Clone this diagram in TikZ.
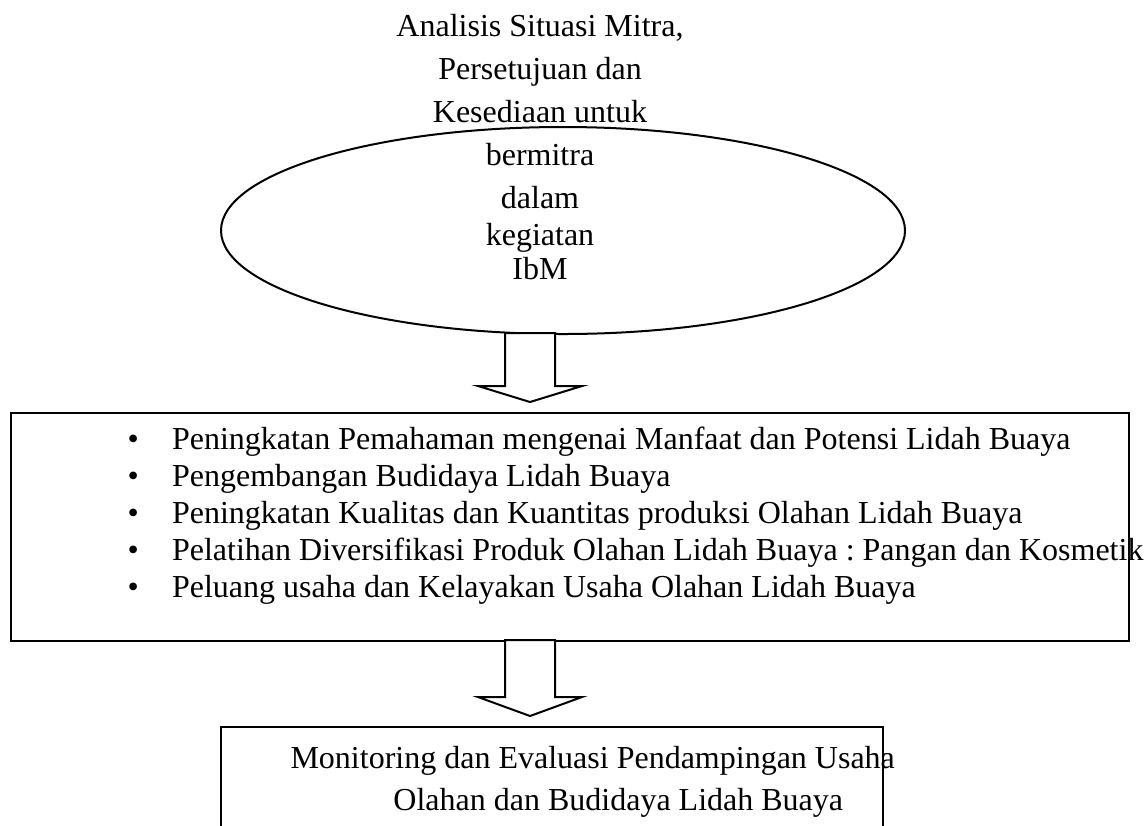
\documentclass[tikz,border=0pt]{standalone}
\usepackage{fontspec}
\setmainfont{Liberation Serif}
\usetikzlibrary{shapes.geometric}
\frenchspacing

\begin{document}
\begin{tikzpicture}[x=0.375pt,y=-0.375pt]
\tikzset{every node/.style={font=\fontsize{12}{13.9}\selectfont}}
\tikzset{outline/.style={draw,line width=0.75pt,inner sep=0pt}}
\tikzset{block arrow/.style={draw,line width=0.75pt,fill=white}}

\useasboundingbox (0,0) rectangle (1146,825);

% situasi mitra
\node[outline,ellipse,minimum width={684*0.375pt},minimum height={207*0.375pt}] (mitra) at (563,230.5) {};
\node[align=center,anchor=north,inner sep=0pt,font=\fontsize{12}{16.1}\selectfont] (mitratext) at (540,14)
  {Analisis Situasi Mitra,\\ Persetujuan dan\\ Kesediaan untuk\\ bermitra\\ dalam\\[-2.2pt] kegiatan\\[-3.4pt] IbM};

% kegiatan
\node[outline,anchor=north west,minimum width={1118*0.375pt},minimum height={228*0.375pt}] (kegiatan) at (10,412) {};
\node[align=left,anchor=north west,inner sep=0pt] (program) at (127,426)
  {\makebox[16.7pt][l]{\textbullet}Peningkatan Pemahaman mengenai Manfaat dan Potensi Lidah Buaya\\
   \makebox[16.7pt][l]{\textbullet}Pengembangan Budidaya Lidah Buaya\\
   \makebox[16.7pt][l]{\textbullet}Peningkatan Kualitas dan Kuantitas produksi Olahan Lidah Buaya\\
   \makebox[16.7pt][l]{\textbullet}Pelatihan Diversifikasi Produk Olahan Lidah Buaya : Pangan dan Kosmetik\\
   \makebox[16.7pt][l]{\textbullet}Peluang usaha dan Kelayakan Usaha Olahan Lidah Buaya};

% monev
\node[outline,anchor=north west,minimum width={662*0.375pt},minimum height={140*0.375pt}] (monev) at (220,726) {};
\node[align=left,anchor=north west,inner sep=0pt,font=\fontsize{12}{15.75}\selectfont] (monevtext) at (290,746)
  {Monitoring dan Evaluasi Pendampingan Usaha\\
   \hspace{38.6pt}Olahan dan Budidaya Lidah Buaya};

% arrows
\coordinate (a1) at (530,333);
\coordinate (a2) at (530,640);
\draw[block arrow] (a1) ++(-25,0) -- ++(0,53) -- ++(-27,0) -- ++(52,16) -- ++(52,-16) -- ++(-27,0) -- ++(0,-53) -- cycle;
\draw[block arrow] (a2) ++(-25,0) -- ++(0,57) -- ++(-27,0) -- ++(52,19) -- ++(52,-19) -- ++(-27,0) -- ++(0,-57) -- cycle;

\end{tikzpicture}
\end{document}
